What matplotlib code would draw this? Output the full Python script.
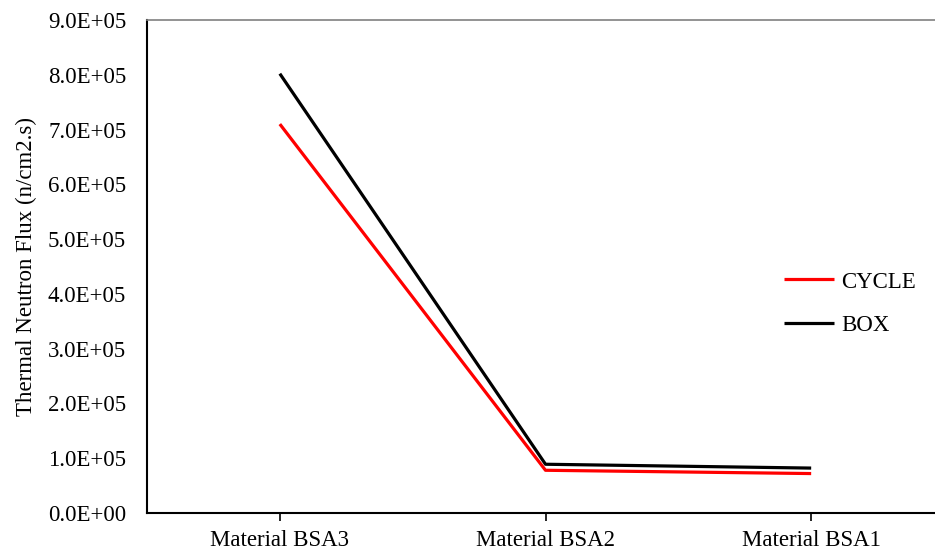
import matplotlib.pyplot as plt
from matplotlib.ticker import FuncFormatter

plt.rcParams['font.family'] = ['Liberation Serif', 'DejaVu Serif']

materials = ['Material BSA3', 'Material BSA2', 'Material BSA1']
cycle = [7.10e5, 0.78e5, 0.72e5]
box = [8.02e5, 0.89e5, 0.82e5]

fig = plt.figure(figsize=(9.35, 5.49), dpi=100)
ax = fig.add_axes([147 / 935, 36 / 549, 797 / 935, 493 / 549])

x = range(len(materials))
ax.plot(x, cycle, color='#ff0000', lw=2.3, label='CYCLE', solid_capstyle='butt')
ax.plot(x, box, color='black', lw=2.3, label='BOX', solid_capstyle='butt')

ax.set_xlim(-0.5, 2.5)
ax.set_ylim(0, 9e5)
ax.set_yticks([i * 1e5 for i in range(10)])
ax.yaxis.set_major_formatter(FuncFormatter(lambda v, p: '%.1E' % v))
ax.set_xticks(list(x))
ax.set_xticklabels(materials)

fs = 16.5
ax.tick_params(axis='y', length=0, pad=15, labelsize=fs)
ax.tick_params(axis='x', length=6, width=1.2, direction='out', pad=6, labelsize=fs)

ax.spines['right'].set_visible(False)
ax.spines['top'].set_color('#808080')
ax.spines['top'].set_linewidth(1.2)
ax.spines['left'].set_linewidth(1.5)
ax.spines['bottom'].set_linewidth(1.5)

ax.set_ylabel('Thermal Neutron Flux (n/cm2.s)', fontsize=fs, labelpad=8)

ax.legend(frameon=False, fontsize=fs, loc='center left',
          bbox_to_anchor=(616 / 797, 0.424), handlelength=2.2,
          handletextpad=0.3, labelspacing=1.0)

fig.savefig('out.png', dpi=100)
